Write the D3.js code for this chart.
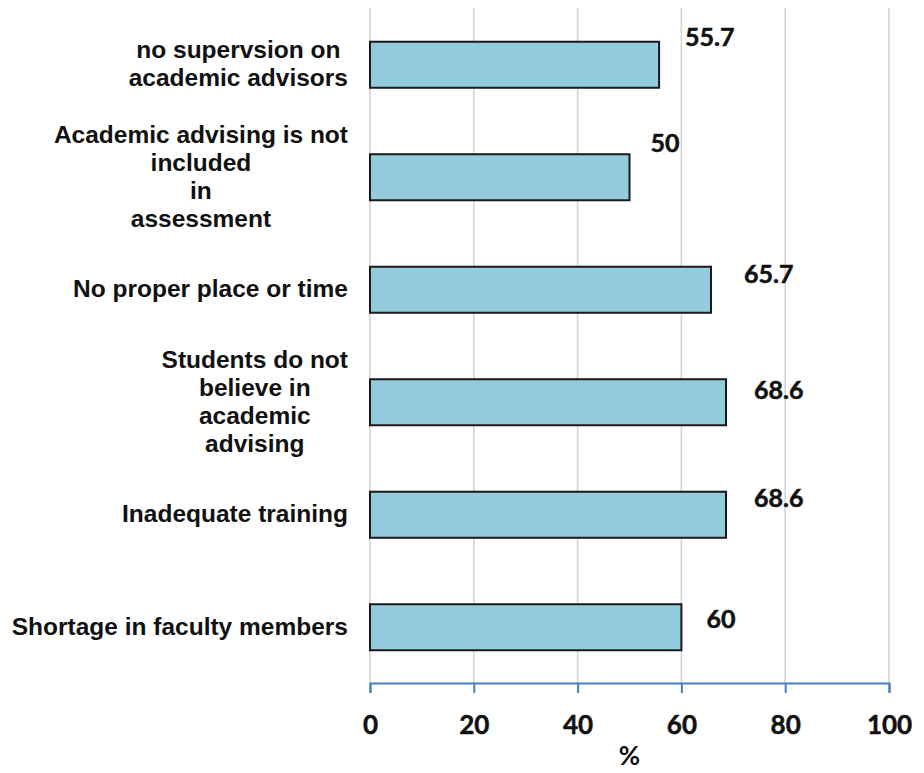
<!DOCTYPE html>
<html>
<head>
<meta charset="utf-8">
<script src="https://cdn.jsdelivr.net/npm/d3@7"></script>
<style>
  html, body { margin: 0; padding: 0; background: #fff; }
  svg { display: block; }
</style>
</head>
<body>
<svg id="chart" width="924" height="773"></svg>
<script>
// Barriers to academic advising, % of respondents
const categories = [
  ["no supervsion on", "academic advisors"],
  ["Academic advising is not", "included", "in", "assessment"],
  ["No proper place or time"],
  ["Students do not", "believe in", "academic", "advising"],
  ["Inadequate training"],
  ["Shortage in faculty members"]
];
const values = [55.7, 50, 65.7, 68.6, 68.6, 60];
const xTicks = [0, 20, 40, 60, 80, 100];
const xTitle = "%";

// Hand-placed value labels: offset from the bar end and from the bar centre
const labelDx = [26, 21, 33, 28, 28, 25];
const labelDy = [-19, -25, -7, -3, -8, 1];

const svg = d3.select("#chart");
const plot = { left: 370, right: 889, top: 8, bottom: 683 };

const x = d3.scaleLinear().domain([0, 100]).range([plot.left, plot.right]);
const y = d3.scaleBand()
  .domain(d3.range(values.length))
  .range([plot.top + 0.5, plot.bottom + 0.5])
  .paddingInner(0.591)
  .paddingOuter(0.2955);

const numFont = "Lato, 'Open Sans', sans-serif";

// vertical gridlines
svg.append("g")
  .selectAll("line")
  .data(xTicks)
  .join("line")
  .attr("x1", d => x(d)).attr("x2", d => x(d))
  .attr("y1", plot.top).attr("y2", plot.bottom)
  .attr("stroke", "#d4d4d4")
  .attr("stroke-width", 1.6);

// bars
svg.append("g")
  .selectAll("rect")
  .data(values)
  .join("rect")
  .attr("x", x(0))
  .attr("y", (d, i) => y(i))
  .attr("width", d => x(d) - x(0))
  .attr("height", y.bandwidth())
  .attr("fill", "#93cddd")
  .attr("stroke", "#1a1a1a")
  .attr("stroke-width", 2);

// value labels
svg.append("g")
  .selectAll("text")
  .data(values)
  .join("text")
  .attr("x", (d, i) => x(d) + labelDx[i])
  .attr("y", (d, i) => y(i) + y.bandwidth() / 2 + labelDy[i])
  .attr("font-family", numFont)
  .attr("font-weight", 700)
  .attr("font-size", 25)
  .attr("fill", "#111")
  .attr("stroke", "#111")
  .attr("stroke-width", 0.5)
  .text(d => d);

// category labels: centred lines, block right-aligned against the axis
const lineH = 28;
const labelRight = 348;
const catG = svg.append("g")
  .attr("font-family", "'Liberation Sans', Arial, sans-serif")
  .attr("font-weight", 700)
  .attr("font-size", 24.5)
  .attr("fill", "#111");

categories.forEach((lines, i) => {
  const cy = y(i) + y.bandwidth() / 2;
  const firstBase = cy - (lines.length - 1) * lineH / 2 + 7.5;
  const t = catG.append("g");
  const texts = lines.map((ln, k) =>
    t.append("text")
      .attr("y", firstBase + k * lineH)
      .attr("text-anchor", "middle")
      .text(ln)
  );
  const maxW = d3.max(texts, s => s.node().getComputedTextLength());
  texts.forEach(s => s.attr("x", labelRight - maxW / 2));
});

// x axis
const axis = d3.axisBottom(x)
  .tickValues(xTicks)
  .tickSize(10)
  .tickSizeOuter(10)
  .tickPadding(23);

const ax = svg.append("g")
  .attr("transform", `translate(0,${plot.bottom})`)
  .call(axis);

ax.select(".domain").attr("stroke", "#4a7ebb").attr("stroke-width", 2);
ax.selectAll(".tick line").attr("stroke", "#4a7ebb").attr("stroke-width", 2);
ax.selectAll(".tick text")
  .attr("font-family", numFont)
  .attr("font-weight", 700)
  .attr("font-size", 26)
  .attr("fill", "#111")
  .attr("stroke", "#111")
  .attr("stroke-width", 0.5);

// axis title
svg.append("text")
  .attr("x", (plot.left + plot.right) / 2)
  .attr("y", 765)
  .attr("text-anchor", "middle")
  .attr("font-family", numFont)
  .attr("font-weight", 700)
  .attr("font-size", 26)
  .attr("fill", "#111")
  .text(xTitle);
</script>
</body>
</html>
